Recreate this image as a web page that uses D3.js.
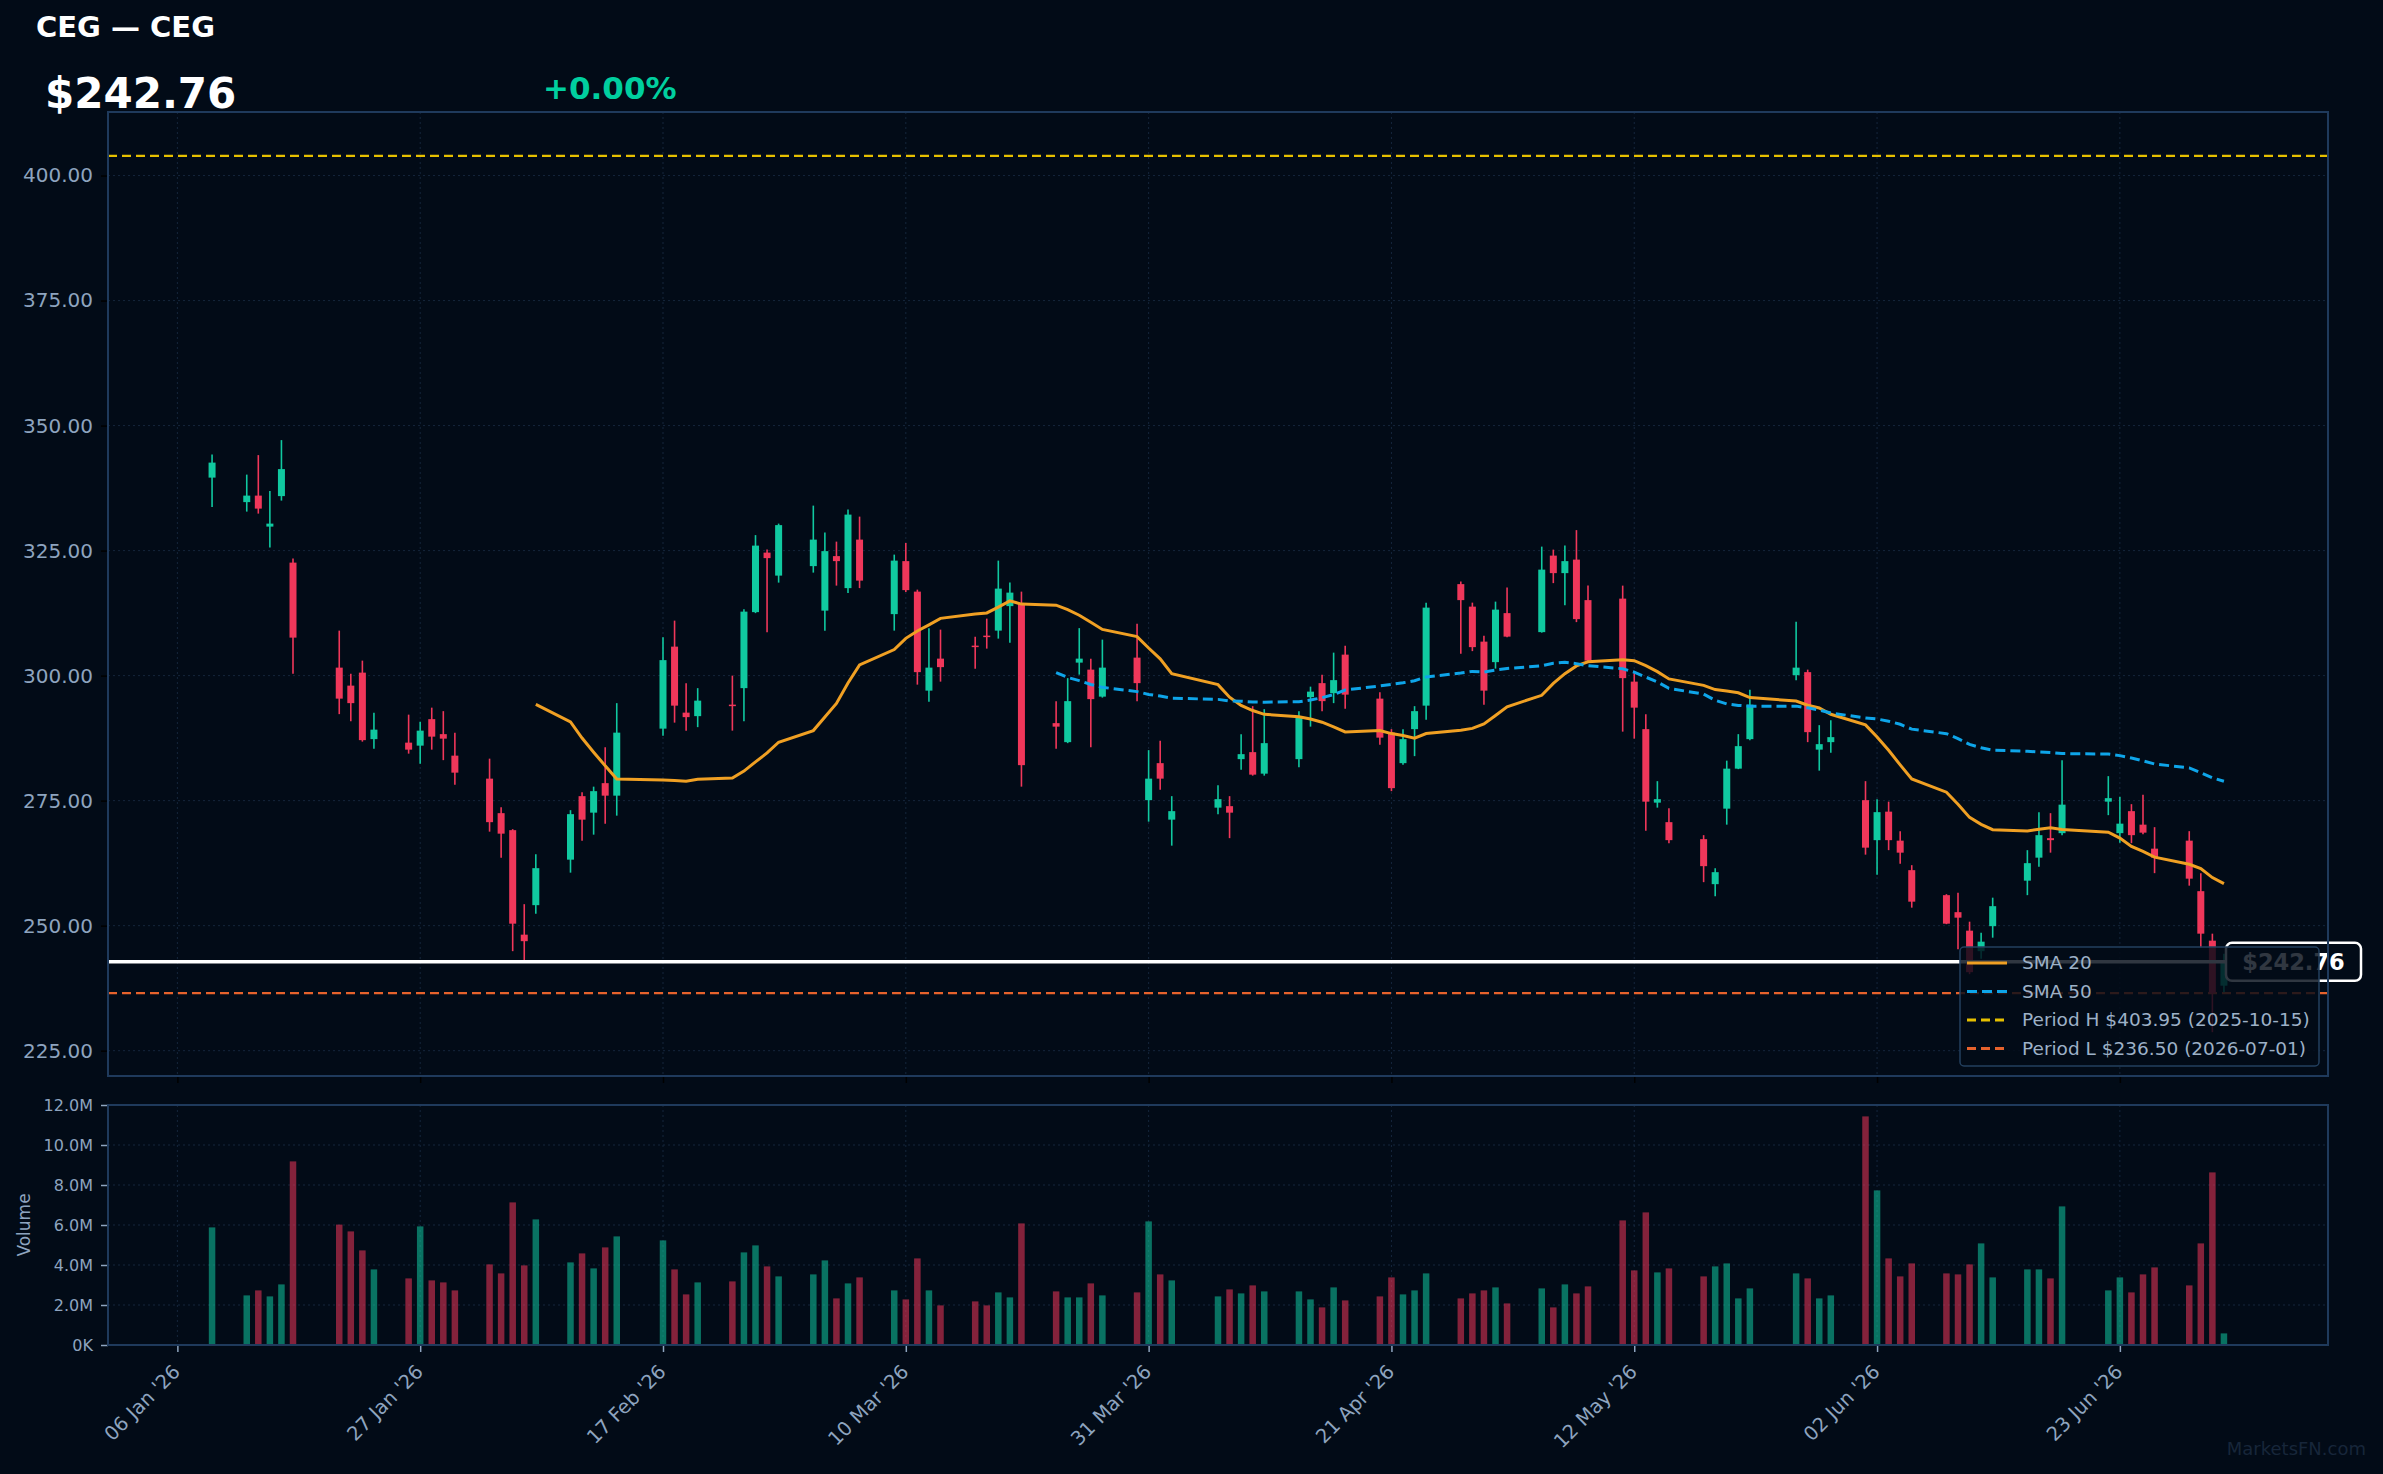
<!DOCTYPE html>
<html>
<head>
<meta charset="utf-8">
<script src="https://cdn.jsdelivr.net/npm/d3@7"></script>
<style>
  body { margin: 0; background: #020b17; }
  svg { display: block; font-family: "DejaVu Sans", sans-serif; }
</style>
</head>
<body>
<div id="chart"></div>
<script>
// daily bars
const dates = [
  "2026-01-09","2026-01-12","2026-01-13","2026-01-14","2026-01-15","2026-01-16","2026-01-20","2026-01-21","2026-01-22","2026-01-23",
  "2026-01-26","2026-01-27","2026-01-28","2026-01-29","2026-01-30","2026-02-02","2026-02-03","2026-02-04","2026-02-05","2026-02-06",
  "2026-02-09","2026-02-10","2026-02-11","2026-02-12","2026-02-13","2026-02-17","2026-02-18","2026-02-19","2026-02-20","2026-02-23",
  "2026-02-24","2026-02-25","2026-02-26","2026-02-27","2026-03-02","2026-03-03","2026-03-04","2026-03-05","2026-03-06","2026-03-09",
  "2026-03-10","2026-03-11","2026-03-12","2026-03-13","2026-03-16","2026-03-17","2026-03-18","2026-03-19","2026-03-20","2026-03-23",
  "2026-03-24","2026-03-25","2026-03-26","2026-03-27","2026-03-30","2026-03-31","2026-04-01","2026-04-02","2026-04-06","2026-04-07",
  "2026-04-08","2026-04-09","2026-04-10","2026-04-13","2026-04-14","2026-04-15","2026-04-16","2026-04-17","2026-04-20","2026-04-21",
  "2026-04-22","2026-04-23","2026-04-24","2026-04-27","2026-04-28","2026-04-29","2026-04-30","2026-05-01","2026-05-04","2026-05-05",
  "2026-05-06","2026-05-07","2026-05-08","2026-05-11","2026-05-12","2026-05-13","2026-05-14","2026-05-15","2026-05-18","2026-05-19",
  "2026-05-20","2026-05-21","2026-05-22","2026-05-26","2026-05-27","2026-05-28","2026-05-29","2026-06-01","2026-06-02","2026-06-03",
  "2026-06-04","2026-06-05","2026-06-08","2026-06-09","2026-06-10","2026-06-11","2026-06-12","2026-06-15","2026-06-16","2026-06-17",
  "2026-06-18","2026-06-22","2026-06-23","2026-06-24","2026-06-25","2026-06-26","2026-06-29","2026-06-30","2026-07-01","2026-07-02"
];
const opens = [
  339.6,334.7,336.0,329.8,335.9,322.6,301.6,298.0,300.6,287.3, 286.6,286.0,291.3,288.3,284.0,279.4,272.5,269.1,248.2,254.1,
  263.2,275.9,272.6,278.5,276.0,289.4,305.8,292.6,291.9,294.2, 297.5,312.7,324.6,320.0,321.9,313.0,323.9,317.5,327.2,312.3,
  322.9,316.8,297.0,303.4,306.0,308.0,309.0,313.9,314.5,290.5, 286.7,302.6,301.2,295.8,303.6,275.1,282.5,271.2,273.6,273.9,
  283.3,284.7,280.4,283.3,295.7,298.5,296.5,304.2,295.4,288.6, 282.5,289.3,294.0,318.3,313.8,306.8,302.7,312.5,308.7,324.0,
  320.5,323.2,315.1,315.4,298.8,289.3,274.6,270.7,267.3,258.3, 273.4,281.4,287.3,300.1,300.7,285.2,286.7,275.1,267.1,272.8,
  267.0,261.1,256.1,252.7,249.0,244.9,249.9,259.0,263.6,267.5, 268.5,274.8,268.5,272.9,270.2,265.4,267.0,256.9,247.0,238.0
];
const highs = [
  344.2,340.2,344.1,336.9,347.1,323.4,309.0,300.4,303.0,292.6, 292.2,290.8,293.6,292.9,288.6,283.4,273.7,269.3,254.3,264.3,
  273.1,276.7,277.8,285.7,294.5,307.7,311.0,298.5,297.5,300.0, 313.3,328.1,325.2,330.4,334.0,328.6,326.8,333.2,331.8,324.2,
  326.5,317.2,309.5,309.2,307.8,311.4,323.0,318.6,316.8,294.9, 299.5,309.5,303.4,307.2,310.4,285.1,287.0,275.9,278.1,275.9,
  288.3,293.9,293.3,292.9,297.8,300.2,304.6,306.0,296.7,289.3, 289.3,293.9,314.6,318.8,314.6,308.0,314.8,317.6,325.8,325.2,
  326.0,329.1,318.0,318.0,300.5,292.3,278.9,273.5,268.1,261.5, 283.0,288.3,297.2,310.8,301.2,290.1,291.1,278.9,275.3,274.8,
  268.9,262.1,256.3,256.6,250.8,248.6,255.6,265.1,272.7,272.5, 283.1,279.9,275.8,274.3,276.2,269.7,268.9,260.5,248.4,244.4
];
const lows = [
  333.7,332.8,332.4,325.6,335.0,300.4,292.3,290.9,286.8,285.4, 284.4,282.4,285.2,283.1,278.2,268.8,263.6,244.9,243.0,252.4,
  260.6,267.0,268.2,270.4,272.0,288.0,290.6,289.0,289.7,289.0, 290.9,312.5,308.7,318.6,320.6,309.0,318.0,316.5,317.5,309.0,
  316.7,298.2,294.8,298.8,301.4,305.4,307.4,306.6,277.8,285.4, 286.5,300.2,285.7,295.6,294.9,270.8,277.2,266.0,272.3,267.5,
  281.2,280.0,280.0,281.7,289.8,292.9,294.5,293.4,286.2,276.9, 282.2,283.9,291.2,304.4,304.9,294.2,301.4,307.7,308.6,318.5,
  314.1,310.7,302.8,288.8,287.4,269.0,273.6,266.5,258.7,255.9, 270.2,281.3,287.1,299.1,286.7,281.0,284.6,264.2,260.2,265.1,
  262.4,253.6,250.3,245.3,240.3,243.4,247.6,256.1,261.8,264.6, 268.1,272.1,266.6,266.5,268.3,260.5,258.0,245.6,228.7,236.7
];
const closes = [
  342.6,336.0,333.4,330.4,341.3,307.6,295.4,294.5,287.1,289.2, 285.2,289.0,287.8,287.4,280.6,270.7,268.4,250.4,246.9,261.5,
  272.3,271.2,276.9,276.0,288.6,303.1,294.0,291.7,295.0,293.9, 312.8,326.0,323.5,330.1,327.2,324.9,322.9,332.2,319.0,323.0,
  317.1,300.7,301.6,301.7,305.7,307.7,317.4,316.6,282.1,289.8, 294.9,303.4,295.3,301.6,298.5,279.4,279.4,272.9,275.3,272.6,
  284.3,280.2,286.5,291.8,296.8,294.9,299.1,296.2,287.6,277.5, 287.3,292.9,313.6,315.1,305.7,297.0,313.2,307.8,321.2,320.5,
  322.9,311.3,303.0,299.5,293.6,274.8,275.3,267.1,261.9,260.7, 281.4,285.9,294.2,301.6,288.7,286.3,287.7,265.6,272.7,267.1,
  264.6,254.8,250.4,251.6,240.7,246.8,253.9,262.5,268.1,267.1, 274.2,275.5,270.4,268.1,268.6,263.6,259.4,248.4,236.5,242.76
];
// volume in millions
const volumes = [
  5.88,2.48,2.73,2.43,3.03,9.18,6.02,5.68,4.73,3.78, 3.33,5.93,3.23,3.13,2.73,4.03,3.58,7.13,3.98,6.28,
  4.13,4.58,3.83,4.88,5.43,5.23,3.78,2.53,3.13,3.18, 4.63,4.98,3.93,3.43,3.53,4.23,2.33,3.08,3.38,2.73,
  2.28,4.33,2.73,1.98,2.18,1.98,2.63,2.38,6.08,2.68, 2.38,2.38,3.08,2.48,2.63,6.18,3.53,3.23,2.43,2.78,
  2.58,2.98,2.68,2.68,2.28,1.88,2.88,2.23,2.43,3.38, 2.53,2.73,3.58,2.33,2.58,2.73,2.88,2.08,2.83,1.88,
  3.03,2.58,2.93,6.23,3.73,6.63,3.63,3.83,3.43,3.93, 4.08,2.33,2.83,3.58,3.33,2.33,2.48,11.43,7.73,4.33,
  3.43,4.08,3.58,3.53,4.03,5.08,3.38,3.78,3.78,3.33, 6.93,2.73,3.38,2.63,3.53,3.88,2.98,5.08,8.63,0.58
];

const priceTicks = [225, 250, 275, 300, 325, 350, 375, 400];
const volumeTicks = [0, 2, 4, 6, 8, 10, 12];
const dateTicks = ["2026-01-06","2026-01-27","2026-02-17","2026-03-10","2026-03-31","2026-04-21","2026-05-12","2026-06-02","2026-06-23"];

const periodHigh = 403.95, periodHighDate = "2025-10-15";
const periodLow = 236.50, periodLowDate = "2026-07-01";
const ticker = "CEG";

const W = 2383, H = 1474;
const UP = "#10c9a0", DOWN = "#f0375a";
const BG = "#020b17";
const TXT = "#8ea4bf";

const parseDate = d3.timeParse("%Y-%m-%d");
const rows = dates.map((d, i) => ({
    date: parseDate(d), open: opens[i], high: highs[i], low: lows[i], close: closes[i], volume: volumes[i] * 1e6
}));

function sma(values, n) {
    return values.map((v, i) => i < n - 1 ? null : d3.mean(values.slice(i - n + 1, i + 1)));
}
const sma20 = sma(closes, 20);
const sma50 = sma(closes, 50);

const main = { left: 108, right: 2328, top: 112, bottom: 1076 };
const vol = { top: 1105, bottom: 1345 };

const svg = d3.select("#chart").append("svg")
    .attr("width", W)
    .attr("height", H);

svg.append("rect").attr("width", W).attr("height", H).attr("fill", BG);

const first = rows[0].date, last = rows[rows.length - 1].date;
const x = d3.scaleTime()
    .domain([d3.timeDay.offset(first, -9), d3.timeDay.offset(last, 9)])
    .range([main.left, main.right]);

const lo = Math.min(d3.min(lows), periodLow), hi = Math.max(d3.max(highs), periodHigh);
const pad = (hi - lo) * 0.05;
const y = d3.scaleLinear()
    .domain([lo - pad, hi + pad])
    .range([main.bottom, main.top]);

const yv = d3.scaleLinear()
    .domain([0, 12e6])
    .range([vol.bottom, vol.top]);

const tickDates = dateTicks.map(parseDate);

// grid
const grid = svg.append("g")
    .attr("stroke", "#15263c")
    .attr("stroke-width", 1)
    .attr("stroke-dasharray", "2,3");

grid.selectAll(".hg").data(priceTicks).enter().append("line")
    .attr("x1", main.left).attr("x2", main.right)
    .attr("y1", d => y(d)).attr("y2", d => y(d));
grid.selectAll(".vg").data(tickDates).enter().append("line")
    .attr("x1", d => x(d)).attr("x2", d => x(d))
    .attr("y1", main.top).attr("y2", main.bottom);
grid.selectAll(".hvg").data(volumeTicks).enter().append("line")
    .attr("x1", main.left).attr("x2", main.right)
    .attr("y1", d => yv(d * 1e6)).attr("y2", d => yv(d * 1e6));
grid.selectAll(".vvg").data(tickDates).enter().append("line")
    .attr("x1", d => x(d)).attr("x2", d => x(d))
    .attr("y1", vol.top).attr("y2", vol.bottom);

// axes
const yAxis = svg.append("g")
    .attr("transform", `translate(${main.left},0)`)
    .call(d3.axisLeft(y).tickValues(priceTicks).tickFormat(d => d.toFixed(2)).tickSize(7).tickPadding(8));
yAxis.select(".domain").remove();
yAxis.selectAll(".tick line").attr("stroke", "#000").attr("stroke-width", 1.5);
yAxis.selectAll("text").attr("fill", TXT).style("font-size", "20px").style("font-family", "DejaVu Sans");

const xMainAxis = svg.append("g")
    .attr("transform", `translate(0,${main.bottom})`)
    .call(d3.axisBottom(x).tickValues(tickDates).tickFormat("").tickSize(7));
xMainAxis.select(".domain").remove();
xMainAxis.selectAll(".tick line").attr("stroke", "#000").attr("stroke-width", 1.5);

const vAxis = svg.append("g")
    .attr("transform", `translate(${main.left},0)`)
    .call(d3.axisLeft(yv).tickValues(volumeTicks.map(v => v * 1e6))
        .tickFormat(d => d === 0 ? "0K" : (d / 1e6).toFixed(1) + "M").tickSize(7).tickPadding(8));
vAxis.select(".domain").remove();
vAxis.selectAll(".tick line").attr("stroke", TXT).attr("stroke-width", 1.5);
vAxis.selectAll("text").attr("fill", TXT).style("font-size", "16px").style("font-family", "DejaVu Sans");

const xAxis = svg.append("g")
    .attr("transform", `translate(0,${vol.bottom})`)
    .call(d3.axisBottom(x).tickValues(tickDates).tickFormat("").tickSize(7));
xAxis.select(".domain").remove();
xAxis.selectAll(".tick line").attr("stroke", TXT).attr("stroke-width", 1.5);

const fmtTick = d3.timeFormat("%d %b '%y");
svg.append("g").selectAll("text")
    .data(tickDates)
    .enter().append("text")
    .attr("transform", d => `translate(${x(d) + 4},${vol.bottom + 28}) rotate(-45)`)
    .attr("text-anchor", "end")
    .attr("fill", TXT)
    .style("font-size", "19.5px")
    .text(d => fmtTick(d));

svg.append("text")
    .attr("transform", `translate(30,${(vol.top + vol.bottom) / 2}) rotate(-90)`)
    .attr("text-anchor", "middle")
    .attr("fill", TXT)
    .style("font-size", "17px")
    .text("Volume");

// volume bars
svg.append("g").selectAll("rect")
    .data(rows)
    .enter().append("rect")
    .attr("x", d => x(d.date) - 3.25)
    .attr("width", 6.5)
    .attr("y", d => yv(d.volume))
    .attr("height", d => vol.bottom - yv(d.volume))
    .attr("fill", d => d.close >= d.open ? UP : DOWN)
    .attr("fill-opacity", 0.55);

// period lines
svg.append("line")
    .attr("x1", main.left).attr("x2", main.right)
    .attr("y1", y(periodHigh)).attr("y2", y(periodHigh))
    .attr("stroke", "#e6c000").attr("stroke-width", 2.2).attr("stroke-dasharray", "9,5");
svg.append("line")
    .attr("x1", main.left).attr("x2", main.right)
    .attr("y1", y(periodLow)).attr("y2", y(periodLow))
    .attr("stroke", "#e6622c").attr("stroke-width", 2.2).attr("stroke-dasharray", "9,5");

// candles
const candles = svg.append("g").selectAll("g")
    .data(rows)
    .enter().append("g");
candles.append("line")
    .attr("x1", d => x(d.date)).attr("x2", d => x(d.date))
    .attr("y1", d => y(d.high)).attr("y2", d => y(d.low))
    .attr("stroke", d => d.close >= d.open ? UP : DOWN)
    .attr("stroke-width", 1.6);
candles.append("rect")
    .attr("x", d => x(d.date) - 3.5)
    .attr("width", 7)
    .attr("y", d => y(Math.max(d.open, d.close)))
    .attr("height", d => Math.max(1.5, Math.abs(y(d.open) - y(d.close))))
    .attr("fill", d => d.close >= d.open ? UP : DOWN);

// moving averages
const lineGen = d3.line()
    .defined(d => d[1] !== null)
    .x(d => x(d[0]))
    .y(d => y(d[1]));
svg.append("path")
    .datum(rows.map((r, i) => [r.date, sma20[i]]))
    .attr("d", lineGen)
    .attr("fill", "none")
    .attr("stroke", "#f0a023")
    .attr("stroke-width", 3);
svg.append("path")
    .datum(rows.map((r, i) => [r.date, sma50[i]]))
    .attr("d", lineGen)
    .attr("fill", "none")
    .attr("stroke", "#0ea5e9")
    .attr("stroke-width", 3)
    .attr("stroke-dasharray", "10,5");

// last price line and label
const lastClose = closes[closes.length - 1];
const labelX = 2226;
svg.append("line")
    .attr("x1", main.left).attr("x2", labelX)
    .attr("y1", y(lastClose)).attr("y2", y(lastClose))
    .attr("stroke", "#ffffff").attr("stroke-width", 3.5);
svg.append("rect")
    .attr("x", labelX).attr("y", y(lastClose) - 19)
    .attr("width", 135).attr("height", 38).attr("rx", 6)
    .attr("fill", BG).attr("stroke", "#ffffff").attr("stroke-width", 2.5);
svg.append("text")
    .attr("x", labelX + 67.5).attr("y", y(lastClose) + 8)
    .attr("text-anchor", "middle")
    .attr("fill", "#ffffff")
    .style("font-size", "22.5px").style("font-weight", "bold")
    .text("$" + lastClose.toFixed(2));

// frames
svg.append("rect")
    .attr("x", main.left).attr("y", main.top)
    .attr("width", main.right - main.left).attr("height", main.bottom - main.top)
    .attr("fill", "none").attr("stroke", "#1f3a5c").attr("stroke-width", 2);
svg.append("rect")
    .attr("x", main.left).attr("y", vol.top)
    .attr("width", main.right - main.left).attr("height", vol.bottom - vol.top)
    .attr("fill", "none").attr("stroke", "#1f3a5c").attr("stroke-width", 2);

// legend
const legendItems = [
    { label: "SMA 20", color: "#f0a023", dash: null },
    { label: "SMA 50", color: "#0ea5e9", dash: "10,5" },
    { label: `Period H $${periodHigh.toFixed(2)} (${periodHighDate})`, color: "#e6c000", dash: "9,5" },
    { label: `Period L $${periodLow.toFixed(2)} (${periodLowDate})`, color: "#e6622c", dash: "9,5" }
];
const legend = svg.append("g").attr("transform", "translate(1960,947)");
legend.append("rect")
    .attr("width", 359).attr("height", 119).attr("rx", 4)
    .attr("fill", BG).attr("fill-opacity", 0.82)
    .attr("stroke", "#23405f").attr("stroke-width", 1.5);
const li = legend.selectAll(".item")
    .data(legendItems)
    .enter().append("g")
    .attr("transform", (d, i) => `translate(0,${16 + i * 28.5})`);
li.append("line")
    .attr("x1", 7).attr("x2", 47)
    .attr("stroke", d => d.color)
    .attr("stroke-width", 2.8)
    .attr("stroke-dasharray", d => d.dash);
li.append("text")
    .attr("x", 62).attr("dy", "0.35em")
    .attr("fill", "#9db1c7")
    .style("font-size", "18.5px")
    .text(d => d.label);

// header
svg.append("text")
    .attr("x", 36).attr("y", 37)
    .attr("fill", "#ffffff")
    .style("font-size", "29px").style("font-weight", "bold")
    .text(`${ticker} — ${ticker}`);
svg.append("text")
    .attr("x", 45).attr("y", 108)
    .attr("fill", "#ffffff")
    .style("font-size", "42px").style("font-weight", "bold")
    .text("$" + lastClose.toFixed(2));
svg.append("text")
    .attr("x", 543).attr("y", 99)
    .attr("fill", "#00cf9f")
    .style("font-size", "31px").style("font-weight", "bold")
    .text("+0.00%");

// watermark
svg.append("text")
    .attr("x", 2366).attr("y", 1455)
    .attr("text-anchor", "end")
    .attr("fill", "#17263a")
    .style("font-size", "18px")
    .text("MarketsFN.com");
</script>
</body>
</html>
